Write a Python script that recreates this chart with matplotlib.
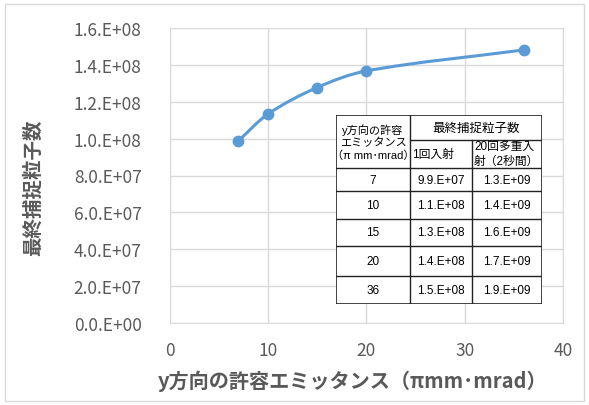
import matplotlib.pyplot as plt
from matplotlib.path import Path
from matplotlib.patches import PathPatch, Rectangle
import numpy as np

plt.rcParams['font.family'] = ['Noto Sans CJK JP', 'DejaVu Sans']

# ---- data ----
emittance = [7, 10, 15, 20, 36]
captured = [9.88e7, 1.133e8, 1.277e8, 1.367e8, 1.481e8]

tbl_emit = ['7', '10', '15', '20', '36']
tbl_single = ['9.9.E+07', '1.1.E+08', '1.3.E+08', '1.4.E+08', '1.5.E+08']
tbl_multi = ['1.3.E+09', '1.4.E+09', '1.6.E+09', '1.7.E+09', '1.9.E+09']

xlabel = 'y方向の許容エミッタンス（πmm･mrad）'
ylabel = '最終捕捉粒子数'

LINE_C = '#5B9BD5'
GRID_C = '#D9D9D9'
TEXT_C = '#595959'
TBL_FONT = ['Liberation Sans', 'Noto Sans CJK JP']

W, H = 589, 406
fig = plt.figure(figsize=(W / 100, H / 100), dpi=100)

# chart border
fig.add_artist(Rectangle((5 / W, 4 / H), 579 / W, 397 / H, transform=fig.transFigure,
                         fill=False, edgecolor=GRID_C, lw=1))

ax = fig.add_axes([169.5 / W, 1 - 324 / H, (563 - 169.5) / W, (324 - 29) / H])
ax.set_xlim(0, 40)
ax.set_ylim(0, 1.6e8)
ax.set_xticks(np.arange(0, 41, 10))
ax.set_yticks(np.arange(0, 1.61e8, 2e7))
ax.set_yticklabels([f'{v / 10 ** int(np.floor(np.log10(v))):.1f}.E+{int(np.floor(np.log10(v))):02d}'
                    if v > 0 else '0.0.E+00' for v in ax.get_yticks()])
ax.grid(True, color=GRID_C, lw=1)
ax.set_axisbelow(True)
for s in ax.spines.values():
    s.set_color(GRID_C)
ax.tick_params(length=0, labelsize=12.5, labelcolor=TEXT_C)
ax.tick_params(axis='y', pad=20)
ax.tick_params(axis='x', pad=13)

# smoothed line: cubic hermite through the points, drawn as bezier segments
x = np.array(emittance, dtype=float)
y = np.array(captured, dtype=float)
n = len(x)
slope = np.empty(n)
slope[0] = (y[1] - y[0]) / (x[1] - x[0])
slope[-1] = (y[-1] - y[-2]) / (x[-1] - x[-2])
for i in range(1, n - 1):
    slope[i] = (y[i + 1] - y[i - 1]) / (x[i + 1] - x[i - 1])
verts = [(x[0], y[0])]
codes = [Path.MOVETO]
for i in range(n - 1):
    h = (x[i + 1] - x[i]) / 3
    verts += [(x[i] + h, y[i] + slope[i] * h),
              (x[i + 1] - h, y[i + 1] - slope[i + 1] * h),
              (x[i + 1], y[i + 1])]
    codes += [Path.CURVE4] * 3
ax.add_patch(PathPatch(Path(verts, codes), fill=False, edgecolor=LINE_C, lw=2.2,
                       capstyle='round', zorder=3))
ax.plot(emittance, captured, 'o', color=LINE_C, ms=7.5, zorder=4)

fig.text(33 / W, 1 - 188 / H, ylabel, rotation=90, ha='center', va='center',
         fontsize=14, color=TEXT_C, fontweight='bold')
fig.text(353 / W, 1 - 381 / H, xlabel, ha='center', va='center',
         fontsize=14.5, color=TEXT_C, fontweight='bold')

# ---- table drawn in pixel-like coordinates ----
cols = [336, 410, 472, 542]
rows = [116, 141, 169, 192, 220, 247, 277, 305]
tx = fig.add_axes([cols[0] / W, 1 - rows[-1] / H, (cols[-1] - cols[0]) / W,
                   (rows[-1] - rows[0]) / H])
tx.set_xlim(cols[0], cols[-1])
tx.set_ylim(rows[-1], rows[0])
tx.axis('off')
tx.add_patch(Rectangle((cols[0], rows[0]), cols[-1] - cols[0], rows[-1] - rows[0],
                       facecolor='white', edgecolor='#222222', lw=1.2, zorder=1))
lk = dict(color='#222222', lw=1.0, zorder=2)
tx.plot([cols[1], cols[1]], [rows[0], rows[-1]], **lk)
tx.plot([cols[2], cols[2]], [rows[1], rows[-1]], **lk)
tx.plot([cols[1], cols[3]], [rows[1], rows[1]], **lk)
for r in rows[2:-1]:
    tx.plot([cols[0], cols[3]], [r, r], **lk)

fs = 8.5
tx.text((cols[0] + cols[1]) / 2, (rows[0] + rows[2]) / 2,
        'y方向の許容\nエミッタンス\n（π mm･mrad）', ha='center', va='center',
        fontsize=8, linespacing=1.2, family=TBL_FONT)
tx.text((cols[1] + cols[3]) / 2, (rows[0] + rows[1]) / 2, '最終捕捉粒子数',
        ha='center', va='center', fontsize=9, family=TBL_FONT)
tx.text(cols[1] + 2, (rows[1] + rows[2]) / 2, '1回入射', ha='left', va='center',
        fontsize=8.5, family=TBL_FONT)
tx.text(cols[2] + 2, (rows[1] + rows[2]) / 2, '20回多重入\n射（2秒間）', ha='left',
        va='center', fontsize=8.5, linespacing=1.15, family=TBL_FONT)
for i in range(len(tbl_emit)):
    yc = (rows[2 + i] + rows[3 + i]) / 2
    tx.text((cols[0] + cols[1]) / 2, yc, tbl_emit[i], ha='center', va='center',
            fontsize=fs, family=TBL_FONT)
    tx.text((cols[1] + cols[2]) / 2, yc, tbl_single[i], ha='center', va='center',
            fontsize=fs, family=TBL_FONT)
    tx.text((cols[2] + cols[3]) / 2, yc, tbl_multi[i], ha='center', va='center',
            fontsize=fs, family=TBL_FONT)

fig.savefig('out.png', dpi=100)
